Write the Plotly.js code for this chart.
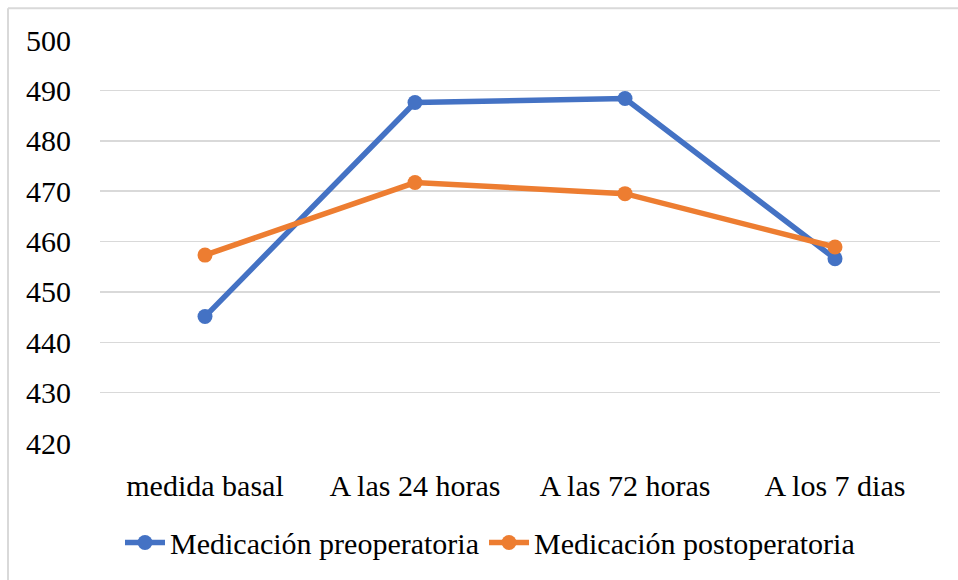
<!DOCTYPE html>
<html>
<head>
<meta charset="utf-8">
<script src="https://cdn.plot.ly/plotly-3.0.1.min.js"></script>
<style>
html,body{margin:0;padding:0;background:#fff;}
#chart{width:958px;height:580px;}
#chart svg text{font-family:"Liberation Serif","DejaVu Serif","Times New Roman",serif !important;}
</style>
</head>
<body>
<div id="chart"></div>
<script>
const categories = ["medida basal", "A las 24 horas", "A las 72 horas", "A los 7 dias"];
const seriesNames = ["Medicación preoperatoria", "Medicación postoperatoria"];
const preValues = [445.1, 487.6, 488.4, 456.6];
const postValues = [457.3, 471.7, 469.5, 458.9];
const yTicks = [420, 430, 440, 450, 460, 470, 480, 490, 500];

const colors = ["#4472C4", "#ED7D31"];
const font = {family: "Liberation Serif", size: 30, color: "#000"};

const traces = [preValues, postValues].map((vals, i) => ({
  type: "scatter",
  mode: "lines+markers",
  name: seriesNames[i],
  x: categories,
  y: vals,
  line: {color: colors[i], width: 5.5},
  marker: {color: colors[i], size: 15}
}));

const L = 100, R = 18, T = 40, B = 135, W = 958, H = 580;
const pw = W - L - R, ph = H - T - B;
const px = v => (v - L) / pw;
const py = v => (H - B - v) / ph;

const layout = {
  width: W, height: H,
  margin: {l: L, r: R, t: T, b: B, pad: 0},
  paper_bgcolor: "#fff", plot_bgcolor: "#fff",
  font: font,
  showlegend: true,
  legend: {orientation: "h", x: px(490), xanchor: "center", y: py(545), yanchor: "middle",
           font: font, itemwidth: 40, tracegroupgap: 0},
  xaxis: {type: "category", range: [-0.5, 3.5], showgrid: false, zeroline: false, showline: false,
          ticks: "", tickfont: font, ticklabelstandoff: 22, fixedrange: true},
  yaxis: {range: [420, 500], tickvals: yTicks, ticktext: yTicks.map(String), showgrid: true,
          gridcolor: "#d9d9d9", gridwidth: 1.5, zeroline: false, showline: false, ticks: "",
          tickfont: font, ticklabelstandoff: 28, fixedrange: true},
  shapes: [
    {type: "line", xref: "paper", yref: "paper", x0: px(8), x1: px(8), y0: py(8), y1: py(600),
     line: {color: "#d9d9d9", width: 2}},
    {type: "line", xref: "paper", yref: "paper", x0: px(8), x1: px(1000), y0: py(8), y1: py(8),
     line: {color: "#d9d9d9", width: 2}}
  ]
};

Plotly.newPlot("chart", traces, layout, {displayModeBar: false, staticPlot: true});
</script>
</body>
</html>
